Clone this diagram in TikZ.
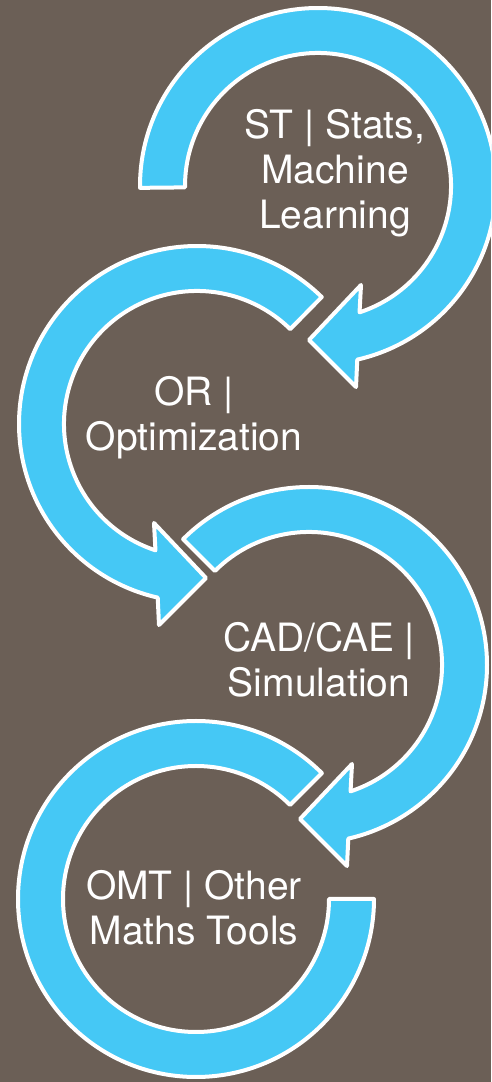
\documentclass[tikz,border=0pt]{standalone}
\usepackage{fontspec}
\setmainfont{TeX Gyre Heros}
\definecolor{bgc}{HTML}{6B5F56}
\definecolor{arrc}{HTML}{45C8F5}
\begin{document}
\begin{tikzpicture}[x=1pt,y=1pt,
  band/.style={fill=arrc,draw=white,line width=4pt,line join=round},
  lbl/.style={text=white,align=center,font=\fontsize{39}{45}\selectfont,inner sep=0pt}]
\useasboundingbox (0,0) rectangle (491,1082);
\clip (0,0) rectangle (491,1082);
\fill[bgc] (0,0) rectangle (491,1082);
\coordinate (c1) at (318,896);
\coordinate (c2) at (197,658);
\coordinate (c3) at (309,417);
\coordinate (c4) at (196,183);
% arrow 1 (clockwise)
\begin{scope}[shift={(c1)}]
\draw[band] (180.6:178) arc[start angle=180.6,end angle=-77.25,radius=178]
  -- (38,-201) -- (-9,-154) -- (43,-99) -- (-71.8:133)
  arc[start angle=-71.8,end angle=180.6,radius=133] -- cycle;
\end{scope}
% arrow 2 (counter-clockwise)
\begin{scope}[shift={(c2)}]
\draw[band] (45.5:178) arc[start angle=45.5,end angle=257.25,radius=178]
  -- (-38,-201) -- (9,-154) -- (-43,-99) -- (251.8:133)
  arc[start angle=251.8,end angle=45.5,radius=133] -- cycle;
\end{scope}
% arrow 3 (clockwise)
\begin{scope}[shift={(c3)}]
\draw[band] (135:178) arc[start angle=135,end angle=-77.25,radius=178]
  -- (38,-201) -- (-9,-154) -- (43,-99) -- (-71.8:133)
  arc[start angle=-71.8,end angle=135,radius=133] -- cycle;
\end{scope}
% arc 4 (no head)
\begin{scope}[shift={(c4)}]
\draw[band] (45:178) arc[start angle=45,end angle=360,radius=178]
  -- (0:133) arc[start angle=360,end angle=45,radius=133] -- cycle;
\end{scope}
\node[lbl] (st) at (335,909) {ST | Stats,\\Machine\\Learning};
\node[lbl] (or) at (194,664.5) {OR |\\Optimization};
\node[lbl] (cad) at (319,422) {CAD/CAE |\\Simulation};
\node[lbl] (omt) at (194,174) {OMT | Other\\Maths Tools};
\end{tikzpicture}
\end{document}
